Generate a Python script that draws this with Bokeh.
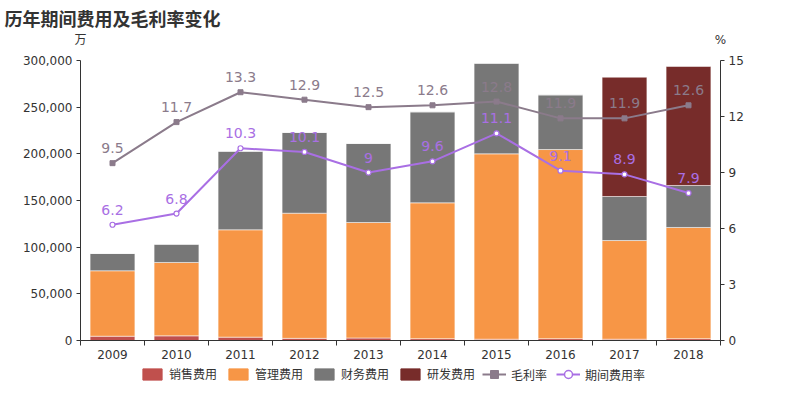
from bokeh.plotting import figure
from bokeh.layouts import column
from bokeh.models import (Range1d, LinearAxis, FixedTicker, NumeralTickFormatter,
                          LabelSet, ColumnDataSource, Legend, LegendItem)
from bokeh.embed import file_html
from bokeh.resources import INLINE
from bokeh.core.properties import value

years = ["2009", "2010", "2011", "2012", "2013", "2014", "2015", "2016", "2017", "2018"]
sales_exp = [4600, 5000, 3600, 2300, 2700, 2000, 1400, 2000, 1400, 2000]
admin_exp = [70100, 78600, 115000, 134100, 123700, 145500, 198600, 202600, 105700, 119100]
fin_exp = [18500, 19600, 84200, 86500, 84700, 97500, 97100, 58600, 47200, 45000]
rd_exp = [0, 0, 0, 0, 0, 0, 0, 0, 127800, 127500]
gross_margin = [9.5, 11.7, 13.3, 12.9, 12.5, 12.6, 12.8, 11.9, 11.9, 12.6]
expense_rate = [6.2, 6.8, 10.3, 10.1, 9, 9.6, 11.1, 9.1, 8.9, 7.9]
left_ticks = [0, 50000, 100000, 150000, 200000, 250000, 300000]
right_ticks = [0, 3, 6, 9, 12, 15]
bar_names = ["销售费用", "管理费用", "财务费用", "研发费用"]
line_names = ["毛利率", "期间费用率"]

C_SALES = "#c0504d"
C_ADMIN = "#f79646"
C_FIN = "#777777"
C_RD = "#772c2a"
C_GM = "#8b7b8b"
C_ER = "#a96fe4"
BAR_COLORS = [C_SALES, C_ADMIN, C_FIN, C_RD]

FONT = "DejaVu Sans"
CJK = "Noto Sans CJK SC"
MIXED = '"DejaVu Sans", "Noto Sans CJK SC"'

xs = [i + 0.5 for i in range(len(years))]
src = ColumnDataSource(dict(x=xs, sales=sales_exp, admin=admin_exp, fin=fin_exp, rd=rd_exp,
                            gm=gross_margin, er=expense_rate,
                            gm_t=[f"{v:g}" for v in gross_margin],
                            er_t=[f"{v:g}" for v in expense_rate]))

p = figure(width=784, height=364, output_backend="svg", toolbar_location=None,
           x_range=Range1d(0, len(years)), y_range=Range1d(0, 300000),
           min_border_left=80, min_border_right=64, min_border_top=60, min_border_bottom=24,
           title="历年期间费用及毛利率变化")
p.extra_y_ranges = {"pct": Range1d(0, 15)}
p.outline_line_color = None
p.xgrid.visible = False
p.ygrid.visible = False

p.title.text_font = MIXED
p.title.text_font_size = "18px"
p.title.text_font_style = "bold"
p.title.text_color = "#333333"
p.title.align = "left"
p.title.offset = -76
p.title.standoff = 0

p.vbar_stack(["sales", "admin", "fin", "rd"], x="x", width=0.7, source=src,
             color=BAR_COLORS, line_color="white", line_alpha=0.5, line_width=1)

p.line("x", "gm", source=src, y_range_name="pct", color=C_GM, line_width=2)
p.scatter("x", "gm", source=src, y_range_name="pct", marker="square", size=5, color=C_GM)
p.line("x", "er", source=src, y_range_name="pct", color=C_ER, line_width=2)
p.scatter("x", "er", source=src, y_range_name="pct", marker="circle", size=5,
          fill_color="white", line_color=C_ER, line_width=1.2)

p.add_layout(LabelSet(x="x", y="gm", text="gm_t", source=src, y_range_name="pct",
                      text_align="center", text_baseline="alphabetic", y_offset=10,
                      text_font=value(FONT), text_font_size=value("14px"),
                      text_color=C_GM))
p.add_layout(LabelSet(x="x", y="er", text="er_t", source=src, y_range_name="pct",
                      text_align="center", text_baseline="alphabetic", y_offset=10,
                      text_font=value(FONT), text_font_size=value("14px"),
                      text_color=C_ER))

# axes
xa = p.xaxis[0]
xa.ticker = FixedTicker(ticks=xs, minor_ticks=list(range(len(years) + 1)))
xa.major_label_overrides = {x: y for x, y in zip(xs, years)}
xa.major_tick_out = 0
xa.major_tick_in = 0
xa.minor_tick_out = 5
xa.minor_tick_in = 0
xa.minor_tick_line_color = "#333333"

ya = p.yaxis[0]
ya.ticker = FixedTicker(ticks=left_ticks)
ya.formatter = NumeralTickFormatter(format="0,0")
ya.minor_tick_line_color = None

ra = LinearAxis(y_range_name="pct", ticker=FixedTicker(ticks=right_ticks))
ra.minor_tick_line_color = None
p.add_layout(ra, "right")

for ax in (xa, ya, ra):
    ax.axis_line_color = "#333333"
    ax.major_tick_line_color = "#333333"
    ax.major_label_text_font = FONT
    ax.major_label_text_font_size = "12px"
    ax.major_label_text_color = "#333333"
    ax.major_label_standoff = 4
ya.major_tick_out = 4
ya.major_tick_in = 0
ra.major_tick_out = 4
ra.major_tick_in = 0

# unit labels above the two value axes
ua = LinearAxis(ticker=FixedTicker(ticks=[0, len(years)]),
                major_label_overrides={0: "万", len(years): "%"})
ua.axis_line_color = None
ua.major_tick_line_color = None
ua.minor_tick_line_color = None
ua.major_tick_out = 0
ua.major_tick_in = 0
ua.major_label_text_font = MIXED
ua.major_label_text_font_size = "12px"
ua.major_label_text_color = "#333333"
ua.major_label_standoff = 14
p.add_layout(ua, "above")

# ---- legend strip (separate small figure, frame aligned with the chart's) ----
lf = figure(width=784, height=20, output_backend="svg", toolbar_location=None,
            x_range=Range1d(0, 1), y_range=Range1d(0, 1), min_border=0,
            x_axis_type=None, y_axis_type=None)
lf.outline_line_color = None
lf.xgrid.visible = False
lf.ygrid.visible = False

nan = float("nan")
hidden = ColumnDataSource(dict(x=[nan], y=[nan]))
bar_items = []
for name, col in zip(bar_names, BAR_COLORS):
    r = lf.vbar(x="x", top="y", width=0.1, source=hidden, color=col)
    bar_items.append(LegendItem(label=name, renderers=[r]))

gm_l = lf.line("x", "y", source=hidden, color=C_GM, line_width=2)
gm_s = lf.scatter("x", "y", source=hidden, marker="square", size=8, color=C_GM)
er_l = lf.line("x", "y", source=hidden, color=C_ER, line_width=2)
er_s = lf.scatter("x", "y", source=hidden, marker="circle", size=10,
                  fill_color="white", line_color=C_ER, line_width=1.5)
line_items = [LegendItem(label=line_names[0], renderers=[gm_l, gm_s]),
              LegendItem(label=line_names[1], renderers=[er_l, er_s])]

common = dict(orientation="horizontal", border_line_color=None, background_fill_alpha=0,
              padding=0, margin=0, spacing=9, label_standoff=5,
              label_text_font=CJK, label_text_font_size="12px",
              label_text_color="#333333")
leg1 = Legend(items=bar_items, location=(60, 2), glyph_width=24, glyph_height=14,
              label_height=16, **common)
leg2 = Legend(items=line_items, location=(402, 0), glyph_width=24, glyph_height=20,
              label_height=20, **common)
lf.add_layout(leg1, "center")
lf.add_layout(leg2, "center")

layout = column(p, lf, spacing=0)
open("out.html", "w").write(file_html(layout, INLINE))
